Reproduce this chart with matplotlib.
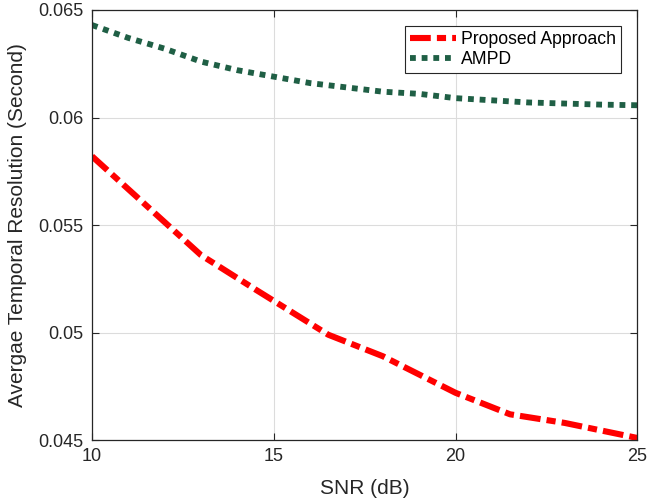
import matplotlib
matplotlib.use("Agg")
import matplotlib.pyplot as plt

plt.rcParams["font.family"] = ["Liberation Sans", "DejaVu Sans"]

# ----- values -----
snr_proposed = [10, 11.5, 13, 14.5, 16.5, 18, 20, 21.5, 23, 25]
res_proposed = [0.0582, 0.0559, 0.0536, 0.0520, 0.0499, 0.0489, 0.0472, 0.0462, 0.0458, 0.0451]

snr_ampd = [10, 11, 12, 13, 14, 15, 16, 17, 18, 19, 20, 21, 22, 23, 24, 25]
res_ampd = [0.0643, 0.0637, 0.0632, 0.0626, 0.0622, 0.0619, 0.0616, 0.0614, 0.0612,
            0.0611, 0.0609, 0.0608, 0.0607, 0.06065, 0.0606, 0.06057]

x_ticks = [10, 15, 20, 25]
y_ticks = [0.045, 0.05, 0.055, 0.06, 0.065]
y_tick_labels = ["0.045", "0.05", "0.055", "0.06", "0.065"]

fig = plt.figure(figsize=(6.5, 4.99), dpi=100)
ax = fig.add_axes([0.1415, 0.118, 0.839, 0.862])

ax.plot(snr_proposed, res_proposed, color="#ff0000", lw=4.4,
        dashes=(3.4, 1.0, 1.5, 1.0), dash_capstyle="butt", label="Proposed Approach")
ax.plot(snr_ampd, res_ampd, color="#1f5f45", lw=4.2,
        dashes=(1.0, 1.0), dash_capstyle="butt", label="AMPD")

ax.set_xlim(10, 25)
ax.set_ylim(0.045, 0.065)
ax.set_xticks(x_ticks)
ax.set_yticks(y_ticks)
ax.set_yticklabels(y_tick_labels)
ax.grid(True, color="#dcdcdc", lw=0.8)
ax.set_axisbelow(True)

ax.tick_params(direction="in", top=True, right=True, labelsize=13,
               colors="#262626", length=5, width=0.8, pad=6)
for s in ax.spines.values():
    s.set_color("#262626")
    s.set_linewidth(0.9)

ax.set_xlabel("SNR (dB)", fontsize=15, color="#262626", labelpad=10)
ax.set_ylabel("Avergae Temporal Resolution (Second)", fontsize=15, color="#262626", labelpad=8)

leg = ax.legend(loc="upper right", fontsize=12.7, fancybox=False, framealpha=1,
                edgecolor="#262626", handlelength=2.6, borderpad=0.3,
                labelspacing=0.15, handletextpad=0.3, borderaxespad=0.9)
leg.get_frame().set_linewidth(0.8)

fig.savefig("out.png", dpi=100)
